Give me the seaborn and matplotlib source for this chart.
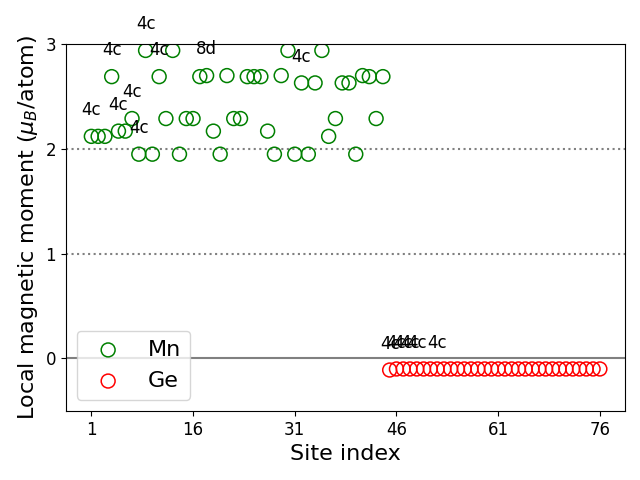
import matplotlib
matplotlib.use("Agg")
import matplotlib.pyplot as plt
import seaborn as sns
import pandas as pd

mn_sites = list(range(1, 45))
mn_moments = [2.12, 2.12, 2.12, 2.69, 2.17, 2.17, 2.29, 1.95, 2.94, 1.95,
              2.69, 2.29, 2.94, 1.95, 2.29, 2.29, 2.69, 2.70, 2.17, 1.95,
              2.70, 2.29, 2.29, 2.69, 2.69, 2.69, 2.17, 1.95, 2.70, 2.94,
              1.95, 2.63, 1.95, 2.63, 2.94, 2.12, 2.29, 2.63, 2.63, 1.95,
              2.70, 2.69, 2.29, 2.69]
ge_sites = list(range(45, 77))
ge_moments = [-0.11, -0.10, -0.10, -0.10, -0.10, -0.10, -0.10, -0.10,
              -0.10, -0.10, -0.10, -0.10, -0.10, -0.10, -0.10, -0.10,
              -0.10, -0.10, -0.10, -0.10, -0.10, -0.10, -0.10, -0.10,
              -0.10, -0.10, -0.10, -0.10, -0.10, -0.10, -0.10, -0.10]

mn_label_sites = [1, 4, 5, 7, 8, 9, 11, 18, 32]
mn_label_texts = ["4c", "4c", "4c", "4c", "4c", "4c", "4c", "8d", "4c"]
ge_label_sites = [45, 46, 47, 48, 49, 52]
ge_label_texts = ["4c", "4c", "4c", "4c", "4c", "4c"]

xticks = [1, 16, 31, 46, 61, 76]
yticks = [0, 1, 2, 3]

mn_df = pd.DataFrame({"site": mn_sites, "moment": mn_moments})
ge_df = pd.DataFrame({"site": ge_sites, "moment": ge_moments})

fig, ax = plt.subplots(figsize=(6.4, 4.8), dpi=100)

ax.axhline(0, color="gray", lw=1.5, zorder=0)
ax.axhline(1, color="gray", lw=1.5, ls=":", zorder=0)
ax.axhline(2, color="gray", lw=1.5, ls=":", zorder=0)

sns.scatterplot(data=mn_df, x="site", y="moment", ax=ax, marker="o",
                s=100, facecolor="none", edgecolor="green", linewidth=1.1,
                label="Mn")
sns.scatterplot(data=ge_df, x="site", y="moment", ax=ax, marker="o",
                s=100, facecolor="none", edgecolor="red", linewidth=1.1,
                label="Ge")

mn_map = dict(zip(mn_sites, mn_moments))
ge_map = dict(zip(ge_sites, ge_moments))
for s, t in zip(mn_label_sites, mn_label_texts):
    ax.text(s, mn_map[s] + 0.25, t, ha="center", va="center", fontsize=12)
for s, t in zip(ge_label_sites, ge_label_texts):
    ax.text(s, ge_map[s] + 0.25, t, ha="center", va="center", fontsize=12)

ax.set_xlim(-2.75, 79.75)
ax.set_ylim(-0.5, 3)
ax.set_xticks(xticks)
ax.set_yticks(yticks)
ax.tick_params(labelsize=12)
ax.set_xlabel("Site index", fontsize=16)
ax.set_ylabel(r"Local magnetic moment ($\mu_B$/atom)", fontsize=16)
ax.legend(loc="lower left", fontsize=16)

fig.subplots_adjust(left=0.103, right=0.977, top=0.908, bottom=0.144)
fig.savefig("out.png", dpi=100)
